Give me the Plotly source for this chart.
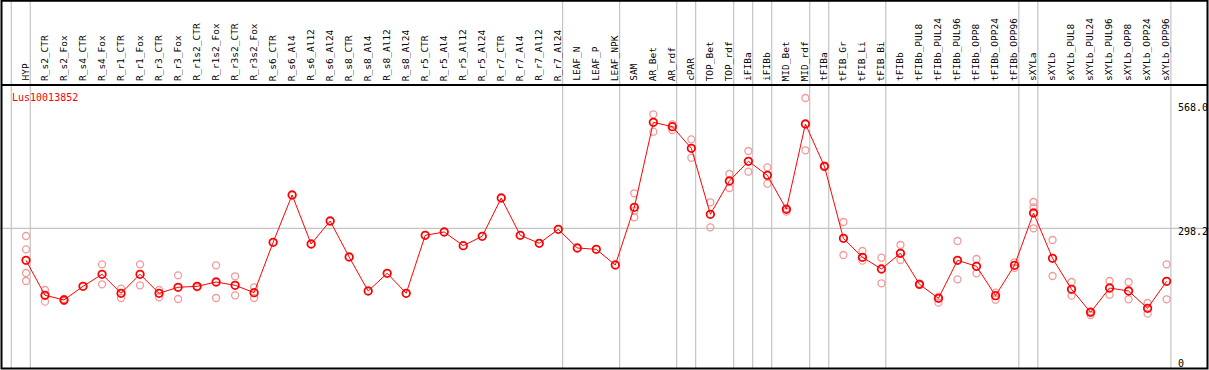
import plotly.graph_objects as go

W, H = 1209, 370

gene_id = "Lus10013852"

categories = [
    "HYP", "R_s2_CTR", "R_s2_Fox", "R_s4_CTR", "R_s4_Fox", "R_r1_CTR", "R_r1_Fox",
    "R_r3_CTR", "R_r3_Fox", "R_r1s2_CTR", "R_r1s2_Fox", "R_r3s2_CTR", "R_r3s2_Fox",
    "R_s6_CTR", "R_s6_Al4", "R_s6_Al12", "R_s6_Al24", "R_s8_CTR", "R_s8_Al4",
    "R_s8_Al12", "R_s8_Al24", "R_r5_CTR", "R_r5_Al4", "R_r5_Al12", "R_r5_Al24",
    "R_r7_CTR", "R_r7_Al4", "R_r7_Al12", "R_r7_Al24", "LEAF_N", "LEAF_P", "LEAF_NPK",
    "SAM", "AR_Bet", "AR_rdf", "cPAR", "TOP_Bet", "TOP_rdf", "iFIBa", "iFIBb",
    "MID_Bet", "MID_rdf", "tFIBa", "tFIB_Gr", "tFIB_Li", "tFIB_Bi", "tFIBb",
    "tFIBb_PUL8", "tFIBb_PUL24", "tFIBb_PUL96", "tFIBb_OPP8", "tFIBb_OPP24",
    "tFIBb_OPP96", "sXYLa", "sXYLb", "sXYLb_PUL8", "sXYLb_PUL24", "sXYLb_PUL96",
    "sXYLb_OPP8", "sXYLb_OPP24", "sXYLb_OPP96",
]

mean_values = [
    228.3, 152.0, 141.8, 171.6, 197.8, 156.4, 197.8, 156.4, 169.5, 171.6, 181.0,
    173.8, 157.7, 267.6, 370.8, 263.9, 314.1, 235.5, 161.4, 200.0, 156.4, 282.9,
    290.1, 260.2, 280.7, 364.2, 282.9, 265.4, 296.0, 255.2, 252.3, 218.1, 343.9,
    529.3, 519.8, 472.6, 328.7, 401.3, 444.3, 413.7, 339.6, 525.6, 433.4, 276.3,
    234.9, 209.4, 243.6, 176.0, 145.4, 228.3, 215.3, 151.2, 217.4, 331.5, 232.7,
    165.1, 114.9, 167.9, 161.4, 123.7, 182.6,
]

replicate_values = [
    [281.4, 252.3, 200.7, 183.2], [163.6, 138.1, 152.0], [144.0, 139.5], [],
    [219.6, 176.0], [166.4, 146.1], [219.6, 173.8], [163.6, 147.6], [195.6, 144.0],
    [169.5], [217.4, 146.1], [193.5, 152.0], [169.5, 146.1],
    [], [], [], [], [], [], [], [], [], [], [], [], [], [], [], [], [], [], [],
    [374.5, 336.5, 322.1], [546.8, 508.8], [525.0, 512.5], [492.2, 452.1],
    [354.9, 300.3], [416.6, 386.0], [466.7, 421.6], [431.1, 395.4], [334.4, 342.0],
    [582.3, 468.3], [435.0, 431.5], [311.9, 239.9], [248.6, 227.5], [234.0, 178.2],
    [261.7, 229.0], [177.5, 174.5], [135.9, 149.0], [270.4, 186.9], [231.2, 200.0],
    [157.7, 142.4], [224.0, 212.0], [355.5, 344.0, 298.2], [272.6, 194.1],
    [181.0, 151.2], [109.0, 117.0], [183.2, 153.3], [181.0, 143.3], [135.2, 111.9],
    [219.6, 143.3],
]

# group separators drawn just after these category indices
group_ends = [-1, 0, 28, 31, 34, 35, 37, 38, 39, 41, 42, 45, 52, 53, 60]

y_tick_values = [568.0, 298.2, 0.0]
y_tick_labels = ["568.0", "298.2", "0"]
y_tick_shift = [-3, -3, 2]
grid_value = 298.2

# ---- layout geometry (pixels) ----
plot_left, plot_right = 1.5, 1207.5
plot_top, plot_bottom = 85, 368.5
x_first, x_step = 26.0, 19.01
y_zero_px, px_per_unit = 365.0, 0.4585

x_range = [(plot_left - x_first) / x_step, (plot_right - x_first) / x_step]
y_range = [(y_zero_px - plot_bottom) / px_per_unit, (y_zero_px - plot_top) / px_per_unit]

idx = list(range(len(categories)))
rep_x, rep_y = [], []
for i, reps in enumerate(replicate_values):
    for v in reps:
        rep_x.append(i)
        rep_y.append(v)

fig = go.Figure()
fig.add_trace(go.Scatter(
    x=rep_x, y=rep_y, mode="markers",
    marker=dict(symbol="circle-open", size=7, color="#f09a9a", line=dict(width=1.3, color="#f09a9a")),
    hoverinfo="skip", showlegend=False, cliponaxis=False,
))
fig.add_trace(go.Scatter(
    x=idx, y=mean_values, mode="lines+markers",
    line=dict(color="#ff0000", width=1),
    marker=dict(symbol="circle-open", size=7.5, color="#ff0000", line=dict(width=1.8, color="#ff0000")),
    text=categories, hovertemplate="%{text}: %{y}<extra></extra>",
    showlegend=False, cliponaxis=False,
))

shapes = []
for g in group_ends:
    shapes.append(dict(type="line", xref="x", yref="paper", x0=g + 0.226, x1=g + 0.226,
                       y0=(H - plot_bottom) / H, y1=1, line=dict(color="#c4c4c4", width=1.2),
                       layer="below"))
shapes.append(dict(type="line", xref="paper", yref="y", x0=0, x1=1, y0=grid_value, y1=grid_value,
                   line=dict(color="#c4c4c4", width=1.2), layer="below"))
# header separator
shapes.append(dict(type="line", xref="paper", yref="paper", x0=plot_left / W, x1=plot_right / W,
                   y0=(H - plot_top) / H, y1=(H - plot_top) / H, line=dict(color="black", width=1.8)))
# outer frame
shapes.append(dict(type="rect", xref="paper", yref="paper", x0=plot_left / W, x1=plot_right / W,
                   y0=(H - plot_bottom) / H, y1=(H - 0.8) / H, line=dict(color="black", width=2)))

annotations = []
for i, name in enumerate(categories):
    annotations.append(dict(x=i, xref="x", y=(H - 83) / H, yref="paper", text=name,
                            textangle=-90, showarrow=False, xanchor="center", yanchor="bottom",
                            xshift=-1, font=dict(family="DejaVu Sans Mono", size=9.5, color="black")))
for v, lab, sh in zip(y_tick_values, y_tick_labels, y_tick_shift):
    annotations.append(dict(x=1175.5 / W, xref="paper", y=v, yref="y", text=lab, showarrow=False,
                            xanchor="left", yanchor="middle", yshift=sh,
                            font=dict(family="DejaVu Sans Mono", size=10, color="black")))
annotations.append(dict(x=9.5 / W, xref="paper", y=(H - 97) / H, yref="paper", text=gene_id,
                        showarrow=False, xanchor="left", yanchor="middle",
                        font=dict(family="DejaVu Sans Mono", size=10, color="#ff0000")))

plot_dom_x = [plot_left / W, plot_right / W]
plot_dom_y = [(H - plot_bottom) / H, (H - plot_top) / H]

fig.update_layout(
    width=W, height=H,
    margin=dict(l=0, r=0, t=0, b=0, pad=0),
    paper_bgcolor="white", plot_bgcolor="white",
    xaxis=dict(range=x_range, domain=plot_dom_x, visible=False, fixedrange=True),
    yaxis=dict(range=y_range, domain=plot_dom_y, visible=False, fixedrange=True),
    shapes=shapes, annotations=annotations,
)

fig.write_html("out.html", config={"displayModeBar": False},
               post_script="document.body.style.margin='0px';")
